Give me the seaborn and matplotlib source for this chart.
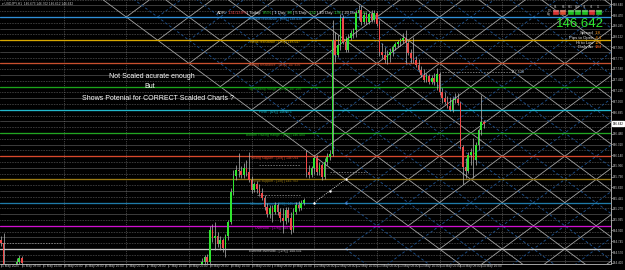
import matplotlib
matplotlib.use("Agg")
import matplotlib.pyplot as plt
import matplotlib.transforms as mtransforms
from matplotlib.patches import Rectangle
import numpy as np
import pandas as pd
import seaborn as sns

# ---------------- data ----------------
symbol_text = "\u25be USDJPY,H1  146.673 146.702 146.612 146.642"

time_labels = ["5 May 2025", "5 May 08:00", "5 May 16:00", "6 May 00:00", "6 May 08:00",
               "6 May 16:00", "7 May 00:00", "7 May 08:00", "7 May 16:00", "8 May 00:00",
               "8 May 08:00", "8 May 16:00", "9 May 00:00", "9 May 08:00", "9 May 16:00",
               "12 May 00:00", "12 May 08:00", "12 May 16:00", "13 May 00:00", "13 May 08:00",
               "13 May 16:00", "14 May 00:00", "14 May 08:00", "14 May 16:00"]
bars_per_label = 8
bars_per_day = 24

price_tick_labels = ["148.640", "148.470", "148.295", "148.122", "147.950", "147.775", "147.580",
                     "147.410", "147.235", "147.060", "146.885", "146.655", "146.480", "146.310",
                     "146.140", "145.966", "145.790", "145.620", "145.445", "145.270", "145.095",
                     "144.920", "144.745", "144.570", "144.400"]

level_names = ["Ultimate resistance - [8/8]", "Weak resistance - [7/8]", "Strong resistance - [6/8]",
               "Top Trading Range - [5/8]", "Pivot - [4/8]", "Bottom Trading Range - [3/8]",
               "Strong support - [2/8]", "Weak support - [1/8]", "Ultimate support - [0/8]",
               "Oversold - [-1/8]", "Extreme oversold - [-2/8]"]
level_values = [148.4375, 148.046875, 147.65625, 147.265625, 146.875, 146.484375,
                146.09375, 145.703125, 145.3125, 144.921875, 144.53125]
level_colors = ["#2f8fd8", "#d8a800", "#c8502e", "#1aa51a", "#22b8cc", "#22a522",
                "#d8482c", "#9a7a12", "#1f7aa8", "#d010d0", "#c8c8c8"]

bar_index = [0, 1, 6, 7, 8] + list(range(77, 186))
opens = [144.68, 144.63, 144.25, 144.31, 144.38,
         144.21, 144.31, 144.40, 144.31, 144.85, 144.72, 144.75, 144.62, 144.68, 144.55,
         144.75, 144.99, 145.49, 145.76, 145.86, 145.85, 145.78, 145.90, 145.83, 145.69,
         145.53, 145.63, 145.54, 145.47, 145.39, 145.24, 145.12, 145.22, 145.16, 145.27,
         145.16, 145.05, 145.00, 145.19, 145.05, 144.85, 145.16, 145.27, 145.22, 145.31,
         146.15, 145.83, 145.78, 145.90, 146.06, 145.83, 145.95, 145.74, 146.00, 146.08,
         146.13, 148.05, 147.80, 147.97, 148.42, 148.02, 147.88, 148.08, 148.17, 148.22,
         148.51, 148.56, 148.35, 148.47, 148.35, 148.49, 148.39, 148.51, 148.32, 147.85,
         147.80, 147.71, 147.80, 147.85, 147.93, 147.98, 148.02, 148.05, 148.08, 148.00,
         147.83, 147.75, 147.71, 147.63, 147.55, 147.46, 147.38, 147.44, 147.34, 147.41,
         147.34, 147.48, 147.18, 147.07, 147.01, 146.94, 146.87, 147.04, 147.06, 146.99,
         146.25, 145.91, 145.85, 146.11, 146.16, 146.03, 146.28, 146.53, 146.67]
highs = [144.75, 144.80, 144.38, 144.43, 144.41,
         144.38, 144.43, 144.45, 144.92, 144.95, 144.99, 144.82, 144.75, 144.72, 144.78,
         145.02, 145.56, 145.86, 145.95, 146.15, 145.93, 145.98, 146.03, 146.16, 145.76,
         145.66, 145.68, 145.63, 145.56, 145.44, 145.31, 145.27, 145.27, 145.32, 145.31,
         145.22, 145.22, 145.24, 145.24, 145.16, 145.22, 145.32, 145.34, 145.36, 145.39,
         146.20, 145.95, 145.93, 146.11, 146.11, 146.00, 145.98, 146.06, 146.15, 146.20,
         148.39, 148.19, 148.14, 148.49, 148.47, 148.12, 148.15, 148.22, 148.25, 148.56,
         148.64, 148.64, 148.52, 148.52, 148.52, 148.56, 148.56, 148.54, 148.39, 148.00,
         147.93, 147.88, 147.92, 147.97, 148.02, 148.05, 148.08, 148.17, 148.22, 148.05,
         147.90, 148.10, 147.78, 147.73, 147.61, 147.56, 147.50, 147.48, 147.46, 147.50,
         147.58, 147.51, 147.24, 147.18, 147.11, 147.09, 147.09, 147.16, 147.16, 147.02,
         146.28, 146.06, 146.16, 146.23, 146.40, 146.33, 146.57, 147.13, 146.70]
lows = [144.58, 144.18, 144.18, 144.28, 144.21,
        144.18, 144.28, 144.28, 144.28, 144.65, 144.52, 144.57, 144.52, 144.48, 144.40,
        144.68, 144.95, 145.44, 145.69, 145.74, 145.73, 145.73, 145.76, 145.66, 145.47,
        145.49, 145.47, 145.42, 145.36, 145.19, 145.07, 145.05, 144.99, 145.12, 145.10,
        144.99, 144.80, 144.95, 144.99, 144.78, 144.82, 145.12, 145.17, 145.19, 145.27,
        145.74, 145.73, 145.74, 145.79, 145.78, 145.78, 145.69, 145.71, 145.95, 146.03,
        146.10, 147.68, 147.76, 147.88, 147.98, 147.85, 147.85, 148.05, 148.08, 148.10,
        148.39, 148.30, 148.32, 148.32, 148.32, 148.35, 148.35, 148.29, 147.78, 147.75,
        147.66, 147.65, 147.68, 147.78, 147.88, 147.93, 147.95, 148.00, 147.66, 147.80,
        147.66, 147.66, 147.60, 147.51, 147.43, 147.34, 147.34, 147.31, 147.31, 147.29,
        147.21, 147.13, 146.99, 146.97, 146.91, 146.86, 146.84, 146.99, 146.96, 146.22,
        145.63, 145.73, 145.81, 145.95, 145.73, 145.95, 146.20, 146.45, 146.57]
closes = [144.63, 144.21, 144.31, 144.38, 144.30,
          144.31, 144.40, 144.31, 144.85, 144.72, 144.75, 144.62, 144.68, 144.55, 144.75,
          144.99, 145.49, 145.76, 145.86, 145.85, 145.78, 145.90, 145.83, 145.69, 145.53,
          145.63, 145.54, 145.47, 145.39, 145.24, 145.12, 145.22, 145.16, 145.27, 145.16,
          145.05, 145.00, 145.19, 145.05, 144.85, 145.16, 145.27, 145.22, 145.31, 145.36,
          145.83, 145.78, 145.90, 146.06, 145.83, 145.95, 145.74, 146.00, 146.08, 146.13,
          148.05, 147.80, 147.97, 148.42, 148.02, 147.88, 148.08, 148.17, 148.22, 148.51,
          148.56, 148.35, 148.47, 148.35, 148.49, 148.39, 148.51, 148.32, 147.85, 147.80,
          147.71, 147.80, 147.85, 147.93, 147.98, 148.02, 148.05, 148.08, 148.00, 147.83,
          147.75, 147.71, 147.63, 147.55, 147.46, 147.38, 147.44, 147.34, 147.41, 147.34,
          147.48, 147.18, 147.07, 147.01, 146.94, 146.87, 147.04, 147.06, 146.99, 146.25,
          145.91, 145.85, 146.11, 146.16, 146.03, 146.28, 146.53, 146.67, 146.642]
current_price = "146.642"

# dashed session lines and marker
session_x0 = [0, 98, 99, 126, 169]
session_x1 = [23, 114.5, 114.5, 141, 195]
session_price = [144.633, 145.441, 145.946, 145.828, 147.512]
session_text = "147.520"
marker_bars = [120, 126, 132]
marker_prices = [145.3125, 145.508, 145.703]
blue_anchor_bar = 132

adr_parts = [("ADR:", "#e8e8e8"), (" 131/139%", "#ff4a4a"), (" | Today:", "#e8e8e8"), (" 85%", "#33e033"),
             (" | 1 Day:", "#e8e8e8"), (" 98", "#33e033"), (" | 5 Day:", "#e8e8e8"), (" 132", "#33e033"),
             (" | 10 Day:", "#e8e8e8"), (" 136", "#33e033"), (" | 20 Day:", "#e8e8e8"), (" 142", "#33e033")]
panel_tf = ["M1", "M5", "M15", "M30", "H1", "H4", "D1"]
panel_colors = ["#d83030", "#d85030", "#20c020", "#20c020", "#20c020", "#d83030", "#20c020"]
info_labels = ["Spread", "Pips to Open", "Hi to Low", "Daily Av"]
info_values = ["1.8", "-4.1", "128", "144"]
info_colors = ["#ff9a20", "#ff8c00", "#ff8c00", "#ff5a1a"]

note_lines = ["Not Scaled acurate enough", "But", "Shows Potenial for CORRECT Scalded Charts ?"]

# ---------------- style ----------------
sns.set_theme(style="dark", rc={"axes.facecolor": "black", "figure.facecolor": "black"})
plt.rcParams["font.family"] = ["Liberation Sans", "DejaVu Sans"]

W, H = 625, 270
fig = plt.figure(figsize=(W / 100, H / 100), dpi=100)
fig.patch.set_facecolor("black")
ax = fig.add_axes([0, 6.5 / H, 610.5 / W, 263.5 / H])
ax.set_facecolor("black")
XMIN, XMAX = -0.38, 233.5
YMIN, YMAX = 144.287, 148.724
ax.set_xlim(XMIN, XMAX)
ax.set_ylim(YMIN, YMAX)
ax.grid(False)

def fx(px):
    return px / W

def fy(py):
    return 1 - py / H

lvl_step = level_values[0] - level_values[1]

# Murrey sub-lines
base_min = level_values[-1] - 2 * lvl_step
for k in range(15):
    base = base_min + k * lvl_step
    ax.axhline(base + 0.5 * lvl_step, color="#4c4c4c", lw=0.55, zorder=1)
    for q in (0.25, 0.75):
        ax.axhline(base + q * lvl_step, color="#8a8a8a", lw=0.45, ls=(0, (1, 1.6)), zorder=1)

# day separators
for d in range(1, 10):
    ax.axvline(d * bars_per_day, color="#7c7c7c", lw=0.5, ls=(0, (1, 1.6)), zorder=1)

# Gann-like lattice
grid_bar0 = 168
grid_half = 12
P0 = level_values[8]
slope = lvl_step / grid_half

def draw_lattice(jb, parity, color, ls, lw, xfree=None):
    for j in range(-24, 30):
        if (j - parity) % 2:
            continue
        if j >= jb:
            x0 = XMIN - 5
        elif xfree is not None:
            x0 = xfree
        else:
            x0 = None
        if x0 is not None:
            xs = np.array([x0, XMAX + 5])
            ax.plot(xs, P0 + j * lvl_step - slope * (xs - grid_bar0), color=color, lw=lw, ls=ls, zorder=2)
        xs0 = grid_bar0 + (jb - j) * grid_half / 2
        if xfree is not None:
            xs0 = min(xs0, xfree)
        xs = np.array([xs0, XMAX + 5])
        ax.plot(xs, P0 + j * lvl_step + slope * (xs - grid_bar0), color=color, lw=lw, ls=ls, zorder=2)

draw_lattice(-2, 0, "#a4a4a4", "-", 0.6)
draw_lattice(-1, 1, "#1d4f8a", (0, (3, 2.5)), 0.65, xfree=blue_anchor_bar)

# Murrey levels
for name, val, col in zip(level_names, level_values, level_colors):
    ax.axhline(val, color=col, lw=0.95, zorder=3)
    ax.text(105, val - 0.032, f"{name} | {val:.3f}", color=col, fontsize=2.4,
            ha="center", va="center", zorder=4)

# session dashed lines
for x0, x1, p in zip(session_x0, session_x1, session_price):
    ax.plot([x0, x1], [p, p], color="#a0a0a0", lw=0.5, ls=(0, (2, 2)), zorder=3)
ax.text(198, session_price[-1], session_text, color="#bdbdbd", fontsize=2.8, ha="center", va="center", zorder=4)

# marker line
ax.plot(marker_bars, marker_prices, color="white", lw=0.6, ls=(0, (1, 1.5)), zorder=4)
sns.scatterplot(x=marker_bars, y=marker_prices, ax=ax, color="white", s=3, linewidth=0, zorder=5)
sns.scatterplot(x=[blue_anchor_bar], y=[P0], ax=ax, color="#4a8ad8", s=3, linewidth=0, zorder=5)

# candles
df = pd.DataFrame({"bar": bar_index, "o": opens, "h": highs, "l": lows, "c": closes})
up = df["c"] >= df["o"]
ax.vlines(df["bar"], df["l"], df["h"], color="#b8b8b8", lw=0.5, zorder=6)
body = (df["c"] - df["o"]).abs().clip(lower=0.012)
ax.bar(df["bar"], body, bottom=np.minimum(df["o"], df["c"]), width=0.62,
       color=np.where(up, "#2fe62f", "#f04848"), linewidth=0, zorder=7)

# spines & ticks
for s in ["top", "left"]:
    ax.spines[s].set_visible(False)
for s in ["right", "bottom"]:
    ax.spines[s].set_color("#c0c0c0")
    ax.spines[s].set_linewidth(0.6)
ax.yaxis.tick_right()
tick_top = YMAX - (YMAX - YMIN) * 4.3 / 263.5
tick_step = (YMAX - YMIN) * 10.77 / 263.5
ax.set_yticks([tick_top - i * tick_step for i in range(len(price_tick_labels))])
ax.set_yticklabels(price_tick_labels)
ax.tick_params(axis="y", right=True, left=False, labelright=True, labelleft=False, length=1.2,
               width=0.4, pad=0.5, labelsize=2.2, colors="#c8c8c8")
xt = [i * bars_per_label for i in range(len(time_labels))]
ax.set_xticks(xt)
ax.set_xticklabels([])
ax.tick_params(axis="x", bottom=True, length=2, width=0.4, colors="#c0c0c0")
for pos, lab in zip(xt, time_labels):
    ax.text(pos + 0.4, -3.0 / 263.5, lab, transform=mtransforms.blended_transform_factory(ax.transData, ax.transAxes),
            color="#c8c8c8", fontsize=2.3, ha="left", va="center", clip_on=False)

# current price box
ax.text(1.004, float(current_price), current_price, color="black", fontsize=2.2, ha="left", va="center",
        transform=mtransforms.blended_transform_factory(ax.transAxes, ax.transData), clip_on=False,
        bbox=dict(boxstyle="square,pad=0.2", fc="white", ec="white"), zorder=20)

# top-left symbol line
fig.text(fx(2), fy(3.5), symbol_text, color="#c8c8c8", fontsize=2.3, ha="left", va="center")

# notes
note_y = [77, 87, 98]
note_x = [152, 150, 158]
for t, x, y in zip(note_lines, note_x, note_y):
    fig.text(fx(x), fy(y), t, color="white", fontsize=5, ha="center", va="center", zorder=10)

# ADR chain
prev = fig.text(fx(217), fy(13), adr_parts[0][0], color=adr_parts[0][1], fontsize=3, ha="left", va="center")
for txt, col in adr_parts[1:]:
    prev = ax.annotate(txt, xy=(1, 0), xycoords=prev, xytext=(0, 0), textcoords="offset points",
                       ha="left", va="bottom", color=col, fontsize=3, annotation_clip=False)

# top-right panel
cell_x = [556, 563, 570.5, 577.5, 584.5, 591.5, 598.5]
for cx, tf, col in zip(cell_x, panel_tf, panel_colors):
    fig.add_artist(Rectangle((fx(cx - 3), fy(15.5)), 6 / W, 5 / H, transform=fig.transFigure,
                             facecolor=col, edgecolor="#222222", lw=0.3))
    fig.add_artist(Rectangle((fx(cx - 3), fy(11.5)), 6 / W, 1.2 / H, transform=fig.transFigure,
                             facecolor="white", alpha=0.25, lw=0))
    fig.text(fx(cx), fy(7.5), tf, color="#bdbdbd", fontsize=1.8, ha="center", va="center")
fig.text(fx(551), fy(11), "TF", color="#d0d0d0", fontsize=1.9, ha="right", va="center")
fig.text(fx(551), fy(14), "Sig", color="#d0d0d0", fontsize=1.9, ha="right", va="center")
fig.text(fx(604), fy(24), current_price, color="#2ee82e", fontsize=9.5, ha="right", va="center")
info_y = [33.3, 38.3, 42.7, 47.3]
for lab, val, col, y in zip(info_labels, info_values, info_colors, info_y):
    fig.text(fx(593), fy(y), lab, color="#e6e6e6", fontsize=3.1, ha="right", va="center")
    fig.text(fx(595), fy(y), val, color=col, fontsize=3.1, ha="left", va="center")

fig.savefig("out.png", dpi=100, facecolor="black")
